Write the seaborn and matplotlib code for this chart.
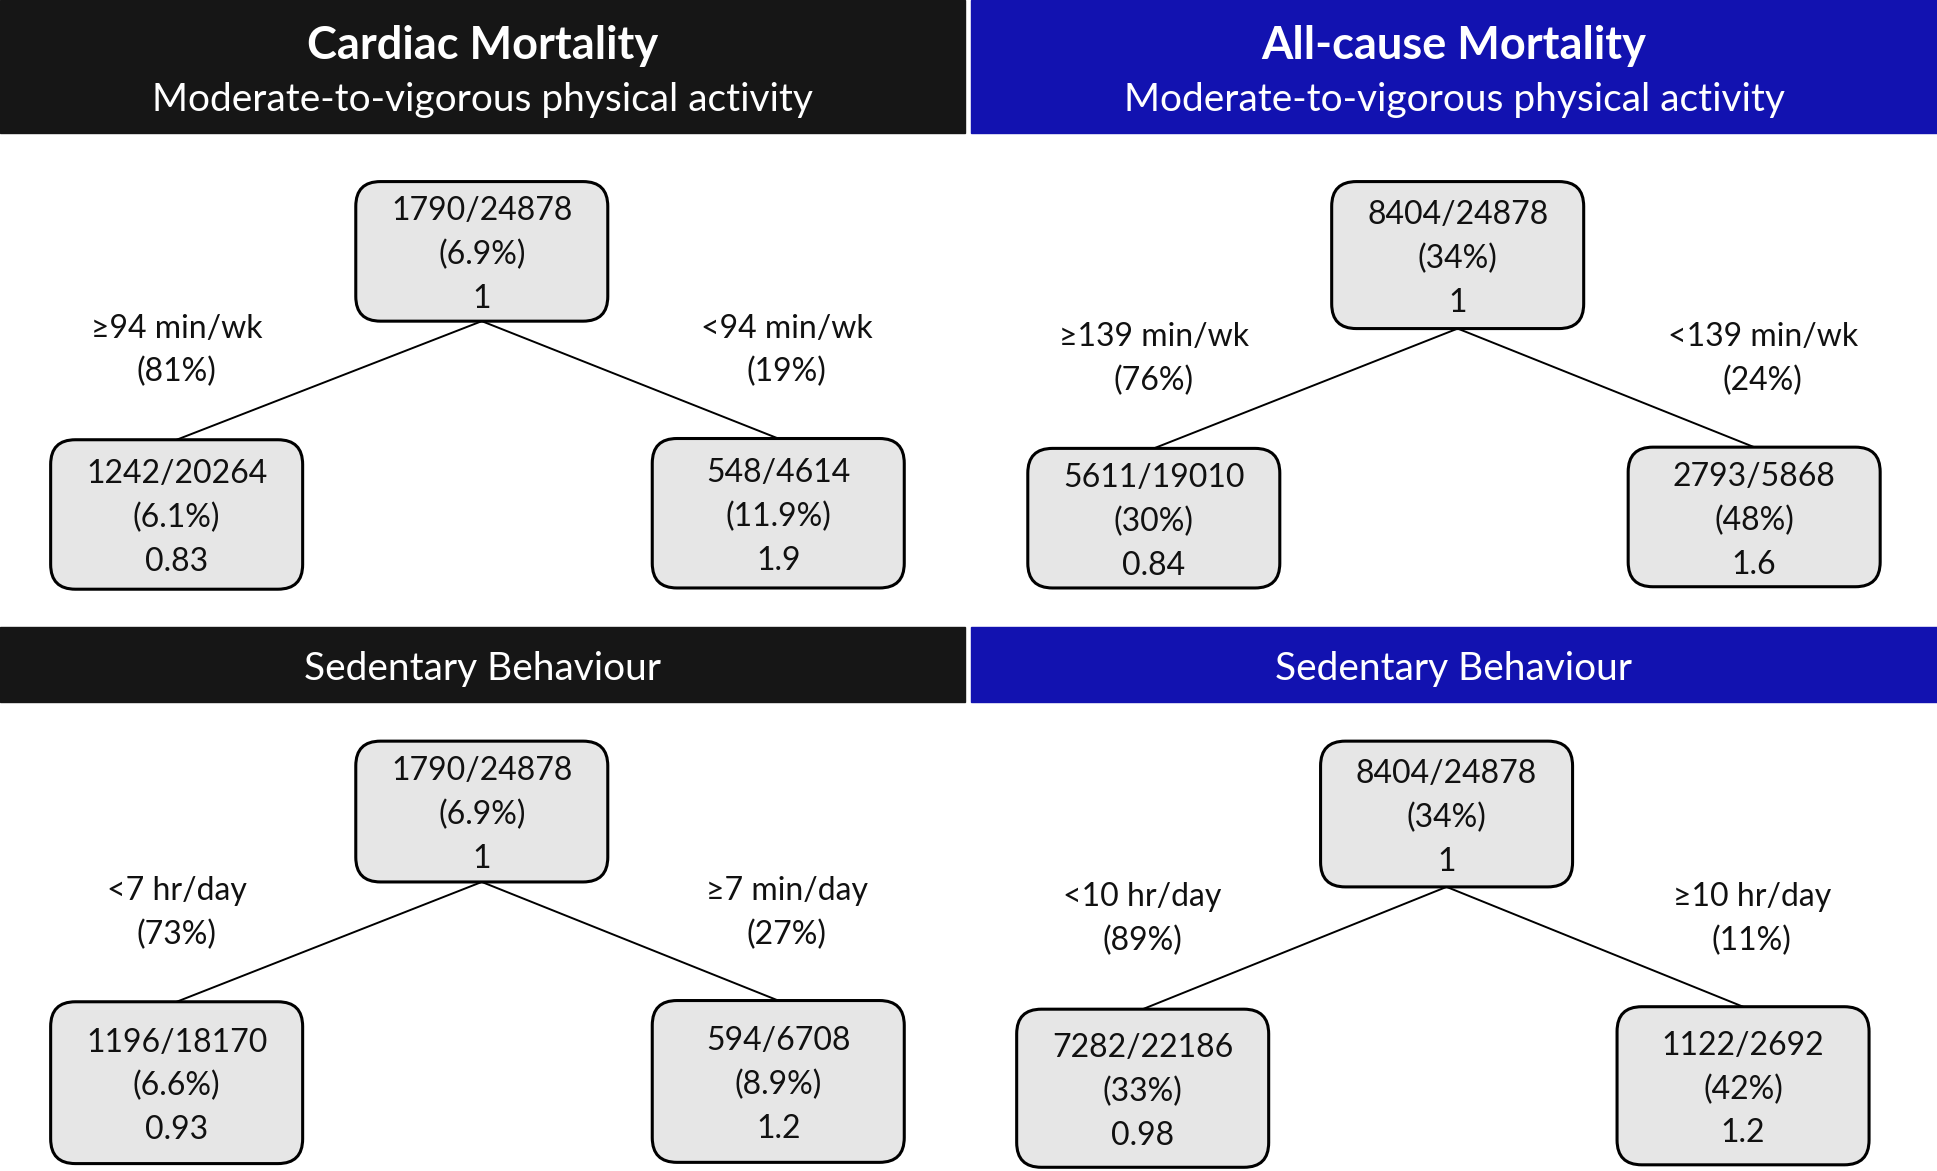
import pandas as pd
import matplotlib
matplotlib.use("Agg")
import matplotlib.pyplot as plt
from matplotlib.patches import FancyBboxPatch, Rectangle
import seaborn as sns

# ── Data ──────────────────────────────────────────────
outcomes = ['Cardiac Mortality', 'All-cause Mortality']
exposures = ['Moderate-to-vigorous physical activity', 'Sedentary Behaviour']

# node order per tree: root, left child, right child
events = [[1790, 1242, 548], [8404, 5611, 2793],
          [1790, 1196, 594], [8404, 7282, 1122]]
totals = [[24878, 20264, 4614], [24878, 19010, 5868],
          [24878, 18170, 6708], [24878, 22186, 2692]]
pct_labels = [['6.9%', '6.1%', '11.9%'], ['34%', '30%', '48%'],
              ['6.9%', '6.6%', '8.9%'], ['34%', '33%', '42%']]
ratios = [['1', '0.83', '1.9'], ['1', '0.84', '1.6'],
          ['1', '0.93', '1.2'], ['1', '0.98', '1.2']]
split_left = ['≥94 min/wk', '≥139 min/wk', '<7 hr/day', '<10 hr/day']
split_right = ['<94 min/wk', '<139 min/wk', '≥7 min/day', '≥10 hr/day']
share_left = ['81%', '76%', '73%', '89%']
share_right = ['19%', '24%', '27%', '11%']

# ── Layout (canvas units 1568 x 948) ──────────────────
W, H = 1568, 948
header_cols = ['#161616', '#1212b0']
col_x = [(0, 781), (786, 1568)]
header_y = [(0, 108), (508, 568)]
# (root cx, root top, root bottom), (left cx, top, bottom), (right cx, top, bottom)
trees = [
    [(390, 147, 260), (143, 356, 477), (630, 355, 476)],
    [(1180, 147, 266), (934, 363, 476), (1420, 362, 475)],
    [(390, 600, 714), (143, 811, 942), (630, 810, 941)],
    [(1171, 600, 718), (925, 817, 945), (1411, 815, 943)],
]
label_pos = [[(143, 266), (637, 266)], [(934, 273), (1427, 273)],
             [(143, 721), (637, 721)], [(925, 726), (1418, 726)]]
box_w = 204
line_gap = 35.5
txt_col = '#111111'

sns.set_theme(style='white')
plt.rcParams['font.family'] = ['Lato', 'DejaVu Sans']

fig = plt.figure(figsize=(19.37, 11.71), dpi=100)
ax = fig.add_axes([0, 0, 1, 1])

# edges
rows = []
for t, nodes in enumerate(trees):
    root = nodes[0]
    for k in (1, 2):
        child = nodes[k]
        rows.append({'edge': f'{t}-{k}', 'x': root[0], 'y': root[2]})
        rows.append({'edge': f'{t}-{k}', 'x': child[0], 'y': child[1]})
edges = pd.DataFrame(rows)
sns.lineplot(data=edges, x='x', y='y', units='edge', estimator=None, sort=False,
             color='black', linewidth=1.4, ax=ax, legend=False, zorder=2)
ax.set_xlim(0, W)
ax.set_ylim(H, 0)
ax.axis('off')

# headers
for c in range(2):
    x0, x1 = col_x[c]
    cx = (x0 + x1) / 2
    for r in range(2):
        y0, y1 = header_y[r]
        ax.add_patch(Rectangle((x0, y0), x1 - x0, y1 - y0, color=header_cols[c], zorder=1))
    ax.text(cx, 37, outcomes[c], color='white', fontsize=32.5, fontweight='bold',
            ha='center', va='center')
    ax.text(cx, 81, exposures[0], color='white', fontsize=28, ha='center', va='center')
    ax.text(cx, 542, exposures[1], color='white', fontsize=28, ha='center', va='center')

# boxes
for t, nodes in enumerate(trees):
    for k, (cx, top, bot) in enumerate(nodes):
        ax.add_patch(FancyBboxPatch((cx - box_w / 2, top), box_w, bot - top,
                                    boxstyle='round,pad=0,rounding_size=20',
                                    facecolor='#e6e6e6', edgecolor='black',
                                    linewidth=2.2, zorder=3))
        cy = (top + bot) / 2 + 3
        lines = [f'{events[t][k]}/{totals[t][k]}', f'({pct_labels[t][k]})', ratios[t][k]]
        for i, s in enumerate(lines):
            ax.text(cx, cy + (i - 1) * line_gap, s, fontsize=23, ha='center',
                    va='center', color=txt_col, zorder=4)
    (lx, ly), (rx, ry) = label_pos[t]
    ax.text(lx, ly, split_left[t], fontsize=23, ha='center', va='center', color=txt_col)
    ax.text(lx, ly + line_gap, f'({share_left[t]})', fontsize=23, ha='center', va='center', color=txt_col)
    ax.text(rx, ry, split_right[t], fontsize=23, ha='center', va='center', color=txt_col)
    ax.text(rx, ry + line_gap, f'({share_right[t]})', fontsize=23, ha='center', va='center', color=txt_col)

fig.savefig('out.png', dpi=100)
